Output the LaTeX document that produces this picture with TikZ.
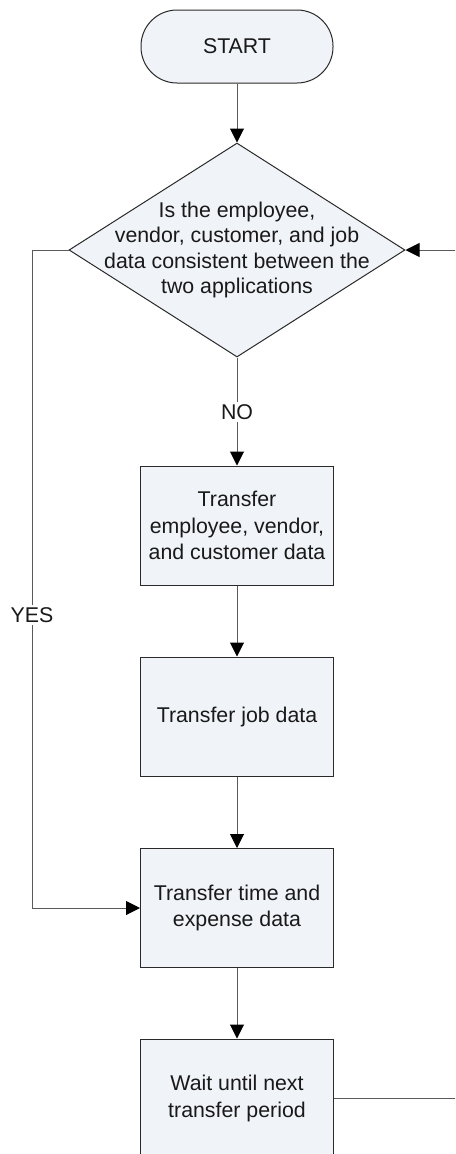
\documentclass[tikz,border=0pt]{standalone}
\usepackage{fontspec}
\setmainfont{Liberation Sans}
\usetikzlibrary{shapes.geometric,arrows.meta}
\definecolor{boxfill}{HTML}{F0F3F7}
\definecolor{linegray}{HTML}{5A5A5A}
\definecolor{edgecol}{HTML}{2A2A2A}
\begin{document}
\begin{tikzpicture}[x=0.75pt,y=-0.75pt,
  every node/.style={font=\fontsize{16}{20}\selectfont, text=black!90},
  procbox/.style={draw=edgecol, fill=boxfill, minimum width=144.75pt, minimum height=89.25pt, inner sep=0pt, align=center, line width=0.75pt},
  term/.style={draw=edgecol, fill=boxfill, minimum width=144pt, minimum height=54.75pt, rounded corners=27pt, line width=0.75pt},
  dia/.style={draw=edgecol, fill=boxfill, diamond, minimum width=252pt, minimum height=160.5pt, inner sep=0pt, line width=0.75pt},
  conn/.style={draw=linegray, line width=0.75pt, -{Triangle[length=10.5pt,width=10.5pt,color=black]}},
  lbl/.style={fill=white, inner sep=2pt}]
\useasboundingbox (0,0) rectangle (455,1154);
\clip (0,0) rectangle (455,1154);

\node[term] (start) at (237,46.5) {START};
\node[dia] (dec) at (237,250) {};
\node[align=center, font=\fontsize{16}{19}\selectfont] (dectext) at (237,250) {Is the employee,\\vendor, customer, and job\\data consistent between the\\two applications};
\node[procbox] (b1) at (237,525.5) {Transfer\\employee, vendor,\\and customer data};
\node[procbox] (b2) at (237,716.5) {Transfer job data};
\node[procbox] (b3) at (237,908) {Transfer time and\\expense data};
\node[procbox] (b4) at (237,1098.5) {Wait until next\\transfer period};

\coordinate (lt) at (32,250);
\coordinate (lb) at (32,908);
\coordinate (rb) at (460,1098.5);
\coordinate (rt) at (460,250);

\draw[conn] (start) -- (dec.north);
\draw[conn] (dec.south) -- (b1.north);
\draw[conn] (b1) -- (b2);
\draw[conn] (b2) -- (b3);
\draw[conn] (b3) -- (b4);
\draw[conn] (dec.west) -- (lt) -- (lb) -- (b3.west);
\draw[conn] (b4.east) -- (rb) -- (rt) -- (dec.east);

\node[lbl] (no) at (237,412) {NO};
\node[lbl] (yes) at (32,615) {YES};
\end{tikzpicture}
\end{document}
